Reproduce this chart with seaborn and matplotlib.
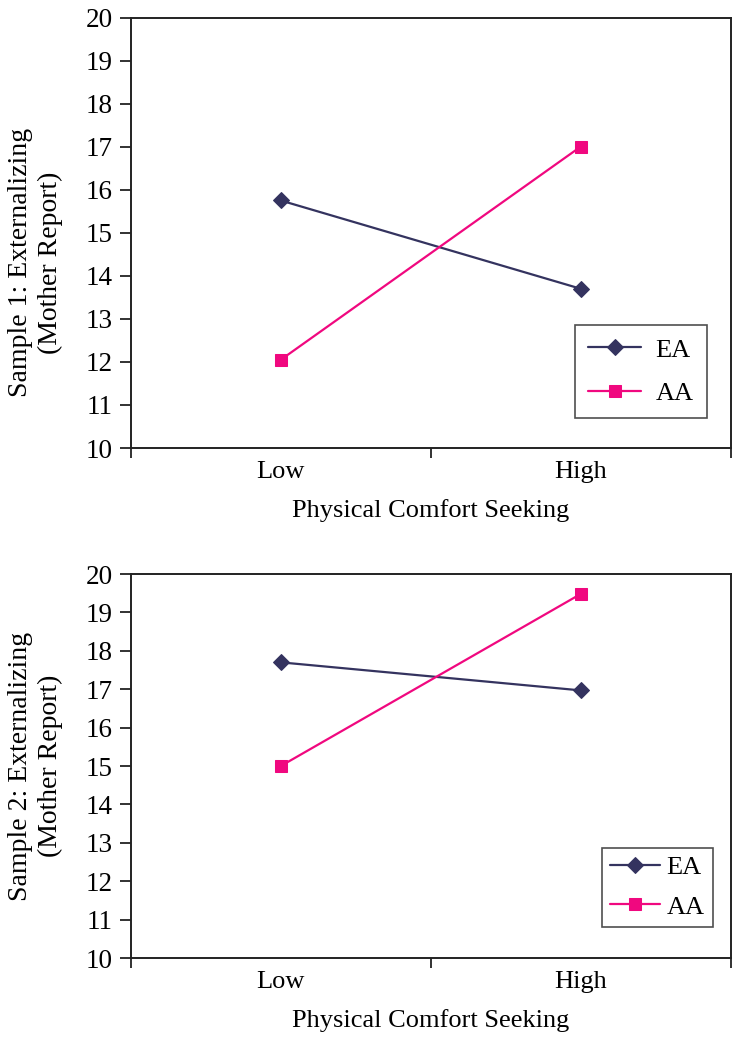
import pandas as pd
import numpy as np
import seaborn as sns
import matplotlib.pyplot as plt
from matplotlib.ticker import FixedLocator

# Data
levels = ["Low", "High"]
groups = ["EA", "AA"]
sample1_ea = [15.75, 13.7]
sample1_aa = [12.05, 17.0]
sample2_ea = [17.7, 16.97]
sample2_aa = [15.0, 19.48]

ylabels = ["Sample 1: Externalizing\n(Mother Report)",
           "Sample 2: Externalizing\n(Mother Report)"]
xlabel = "Physical Comfort Seeking"

colors = {"EA": "#34335f", "AA": "#f0087f"}
markers = {"EA": "D", "AA": "s"}

sns.set_style("white")
plt.rcParams['font.family'] = ['Liberation Serif', 'DejaVu Serif']
plt.rcParams['text.color'] = 'black'


def make_df(ea, aa):
    rows = []
    for g, vals in zip(groups, [ea, aa]):
        for lv, v in zip(levels, vals):
            rows.append({"level": lv, "value": v, "group": g})
    return pd.DataFrame(rows)


fig = plt.figure(figsize=(7.35, 10.5), dpi=100)
ax1 = fig.add_axes([0.178, 0.5733, 0.816, 0.41])
ax2 = fig.add_axes([0.178, 0.0876, 0.816, 0.3657])

# (axes, data, ylabel, ylabel y-pos, legend upper-left corner, legend styling)
panels = [
    (ax1, make_df(sample1_ea, sample1_aa), ylabels[0], 0.43,
     (575 / 735, 1 - 325 / 1050), dict(handlelength=2.0, handletextpad=0.55, borderpad=0.5, labelspacing=0.75)),
    (ax2, make_df(sample2_ea, sample2_aa), ylabels[1], 0.5,
     (602 / 735, 1 - 848 / 1050), dict(handlelength=1.9, handletextpad=0.25, borderpad=0.3, labelspacing=0.6)),
]

for ax, df, ylab, ly, leg_pos, leg_kw in panels:
    for g in groups:
        d = df[df["group"] == g]
        sns.lineplot(data=d, x="level", y="value", ax=ax, color=colors[g],
                     marker=markers[g], markersize=8 if g == "EA" else 9,
                     markeredgecolor=colors[g], linewidth=1.6, label=g)
    ax.set_xlim(-0.5, 1.5)
    ax.set_ylim(10, 20)
    ax.set_yticks(np.arange(10, 21, 1))
    ax.xaxis.set_major_locator(FixedLocator([-0.5, 0.5, 1.5]))
    ax.xaxis.set_minor_locator(FixedLocator([0, 1]))
    ax.set_xticklabels([])
    ax.set_xticklabels(levels, minor=True)
    ax.tick_params(axis="x", which="major", bottom=True, direction="out", length=7, width=1.3, color="#222222")
    ax.tick_params(axis="x", which="minor", bottom=True, length=0, pad=9, labelsize=19, labelcolor="black")
    ax.tick_params(axis="y", left=True, direction="out", length=8, width=1.3, color="#222222",
                   labelsize=19.5, labelcolor="black", pad=5)
    for sp in ax.spines.values():
        sp.set_linewidth(1.4)
        sp.set_color("#222222")
    ax.set_xlabel(xlabel, fontsize=19, labelpad=12, color="black")
    ax.set_ylabel(ylab, fontsize=20, linespacing=1.25, color="black")
    ax.yaxis.set_label_coords(-0.113, ly)
    leg = ax.legend(loc="upper left", bbox_to_anchor=leg_pos, bbox_transform=fig.transFigure,
                    fontsize=19, frameon=True, fancybox=False, edgecolor="#222222",
                    borderaxespad=0, **leg_kw)
    leg.get_frame().set_linewidth(1.2)

fig.savefig("out.png", dpi=100)
